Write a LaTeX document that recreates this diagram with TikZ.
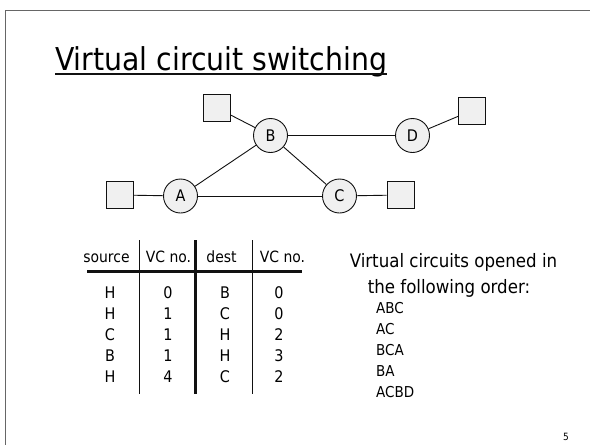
\documentclass[tikz,border=0pt]{standalone}
\usepackage{fontspec}
\setmainfont{DejaVu Sans Condensed}
\usepackage{xcolor}
\usetikzlibrary{positioning}
\definecolor{shade}{HTML}{F0F0F0}
\definecolor{ink}{HTML}{111111}
\definecolor{rim}{HTML}{666666}

\begin{document}
\begin{tikzpicture}[x=1pt, y=-1pt,
  switch/.style={circle, draw=ink, fill=shade, minimum size=34pt, inner sep=0pt, font=\fontsize{16}{16}\selectfont, line width=0.9pt},
  host/.style={rectangle, draw=ink, fill=shade, minimum size=27pt, inner sep=0pt, line width=0.9pt},
  conn/.style={ink, line width=0.9pt},
  head/.style={anchor=base, inner sep=0pt, font=\fontsize{15.5}{18}\selectfont},
  column/.style={anchor=base, inner sep=0pt, align=center, font=\fontsize{16}{21}\selectfont},
  note/.style={anchor=base, inner sep=0pt, font=\fontsize{18.5}{22}\selectfont},
  item/.style={anchor=base west, inner sep=0pt, font=\fontsize{15}{18}\selectfont}
]
\useasboundingbox (0,0) rectangle (590,445);

% ---- Slide frame and title ----
\draw[rim, line width=1.2pt] (5.5,445) -- (5.5,10.5) -- (590,10.5);
\node[anchor=base west, inner sep=0pt, font=\fontsize{31.5}{36}\selectfont] (title) at (55,70) {Virtual circuit switching};
\draw[ink, line width=1.3pt] ([yshift=-4pt]title.base west) -- ([yshift=-4pt]title.base east);

% ---- Network ----
\node[switch] (A) at (180.5,196) {A};
\node[switch] (B) at (270.5,135.5) {B};
\node[switch] (C) at (339.5,196) {C};
\node[switch] (D) at (412.5,135.5) {D};

\node[host] (hostA) at (119.5,195) {};
\node[host] (hostB) at (217,108) {};
\node[host] (hostC) at (400.5,195) {};
\node[host] (hostD) at (472,110.5) {};

\draw[conn] (hostA) -- (A);
\draw[conn] (hostB) -- (B);
\draw[conn] (C) -- (hostC);
\draw[conn] (D) -- (hostD);
\draw[conn] (A) -- (B);
\draw[conn] (A) -- (C);
\draw[conn] (B) -- (C);
\draw[conn] (B) -- (D);

% ---- VC table ----
\node[head] (hsrc) at (106.5,262) {source};
\node[head] (hvcin) at (168.5,262) {VC no.};
\node[head] (hdst) at (221.5,262) {dest};
\node[head] (hvcout) at (282.5,262) {VC no.};

% base of each column is its last row
\node[column] (colsrc) at (110,382.5) {H\\H\\C\\B\\H};
\node[column] (colvcin) at (168,382.5) {0\\1\\1\\1\\4};
\node[column] (coldst) at (225,382.5) {B\\C\\H\\H\\C};
\node[column] (colvcout) at (279,382.5) {0\\0\\2\\3\\2};

\draw[ink, line width=3pt] (87,271) -- (302,271);
\draw[ink, line width=1pt] (139,240) -- (139,394);
\draw[ink, line width=3pt] (195,240) -- (195,394);
\draw[ink, line width=1pt] (252,240) -- (252,394);

% ---- Opening order ----
\node[note] (order1) at (453.5,267) {Virtual circuits opened in};
\node[note] (order2) at (449,293) {the following order:};
\node[item] (vc1) at (376,313) {ABC};
\node[item] (vc2) at (376,334) {AC};
\node[item] (vc3) at (376,355) {BCA};
\node[item] (vc4) at (376,376) {BA};
\node[item] (vc5) at (376,397) {ACBD};

\node[inner sep=0pt, font=\fontsize{10}{12}\selectfont] (pageno) at (566,436.5) {5};

\end{tikzpicture}
\end{document}
